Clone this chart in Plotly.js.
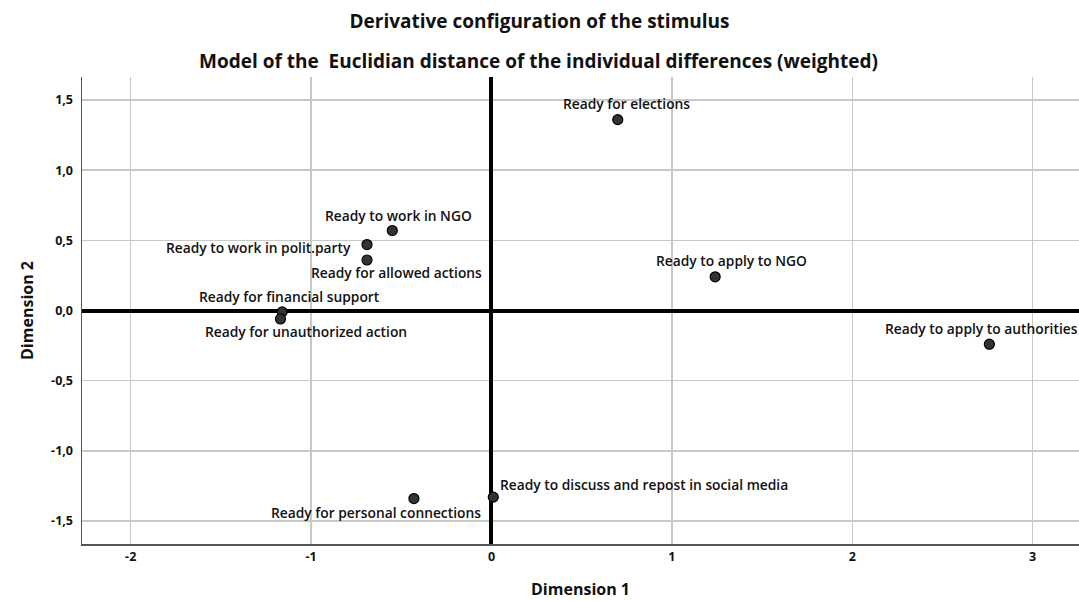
<!DOCTYPE html>
<html>
<head>
<meta charset="utf-8">
<script src="https://cdn.plot.ly/plotly-3.0.1.min.js"></script>
<style>html,body{margin:0;padding:0;background:#fff;}#chart{width:1079px;height:601px;}</style>
</head>
<body>
<div id="chart"></div>
<script>
// Data
const labels = [
  "Ready for elections",
  "Ready to work in NGO",
  "Ready to work in polit.party",
  "Ready for allowed actions",
  "Ready to apply to NGO",
  "Ready for financial support",
  "Ready for unauthorized action",
  "Ready to apply to authorities",
  "Ready for personal connections",
  "Ready to discuss and repost in social media"
];
const dim1 = [0.70, -0.55, -0.69, -0.69, 1.24, -1.16, -1.17, 2.76, -0.43, 0.01];
const dim2 = [1.36, 0.57, 0.47, 0.36, 0.24, -0.01, -0.06, -0.24, -1.34, -1.33];

const xTickVals = [-2, -1, 0, 1, 2, 3];
const xTickText = ["-2", "-1", "0", "1", "2", "3"];
const yTickVals = [-1.5, -1.0, -0.5, 0, 0.5, 1.0, 1.5];
const yTickText = ["-1,5", "-1,0", "-0,5", "0,0", "0,5", "1,0", "1,5"];

// Label placement (style only)
const labelShiftX = [9, 6, -14, 29, 16, 7, 26, -8, -38, 5];
const labelShiftY = [16, 15, -3, -13, 16, 15, -13, 16, -14, 13];
const labelAnchor = ["center","center","right","center","center","center","center","center","center","left"];

const labelFont = {family: "Open Sans, sans-serif", size: 13.8, color: "#111", weight: 600};

const annotations = labels.map((t, i) => ({
  x: dim1[i], y: dim2[i], xref: "x", yref: "y",
  text: t, showarrow: false,
  xanchor: labelAnchor[i], yanchor: "middle",
  xshift: labelShiftX[i], yshift: labelShiftY[i],
  font: labelFont
}));

annotations.push({
  xref: "paper", yref: "paper", x: 0.4575, y: 1.034,
  xanchor: "center", yanchor: "middle", showarrow: false,
  text: "Model of the  Euclidian distance of the individual differences (weighted)",
  font: {family: "Open Sans, sans-serif", size: 19, color: "#111", weight: 700}
});

const trace = {
  x: dim1, y: dim2, mode: "markers", type: "scatter",
  marker: {size: 10, color: "#333", line: {color: "#000", width: 1.2}},
  hoverinfo: "text", text: labels
};

const layout = {
  width: 1079, height: 601,
  margin: {l: 82, r: 0, t: 77, b: 57},
  paper_bgcolor: "#fff", plot_bgcolor: "#fff",
  showlegend: false,
  title: {
    text: "Derivative configuration of the stimulus",
    xref: "container", x: 0.5, xanchor: "center",
    yref: "container", y: 1 - 21/601, yanchor: "middle",
    font: {family: "Open Sans, sans-serif", size: 19, color: "#111", weight: 700}
  },
  xaxis: {
    range: [-2.270, 3.257],
    tickvals: xTickVals, ticktext: xTickText,
    showgrid: true, gridcolor: "#c8c8c8", gridwidth: 1.5,
    zeroline: true, zerolinecolor: "#000", zerolinewidth: 4,
    showline: true, linecolor: "#555", linewidth: 1.5, mirror: false,
    ticks: "", ticklen: 0,
    tickfont: {family: "Open Sans, sans-serif", size: 12.5, color: "#111", weight: 700},
    title: {text: "Dimension 1", standoff: 20,
      font: {family: "Open Sans, sans-serif", size: 16, color: "#111", weight: 700}}
  },
  yaxis: {
    range: [-1.664, 1.664],
    tickvals: yTickVals, ticktext: yTickText,
    showgrid: true, gridcolor: "#c8c8c8", gridwidth: 1.5,
    zeroline: true, zerolinecolor: "#000", zerolinewidth: 4,
    showline: true, linecolor: "#555", linewidth: 1.5, mirror: false,
    ticks: "", ticklen: 0, ticklabelstandoff: 5,
    tickfont: {family: "Open Sans, sans-serif", size: 12.5, color: "#111", weight: 700},
    title: {text: "Dimension 2", standoff: 13,
      font: {family: "Open Sans, sans-serif", size: 16, color: "#111", weight: 700}}
  },
  annotations: annotations
};

Plotly.newPlot("chart", [trace], layout, {displayModeBar: false, staticPlot: true});
</script>
</body>
</html>
